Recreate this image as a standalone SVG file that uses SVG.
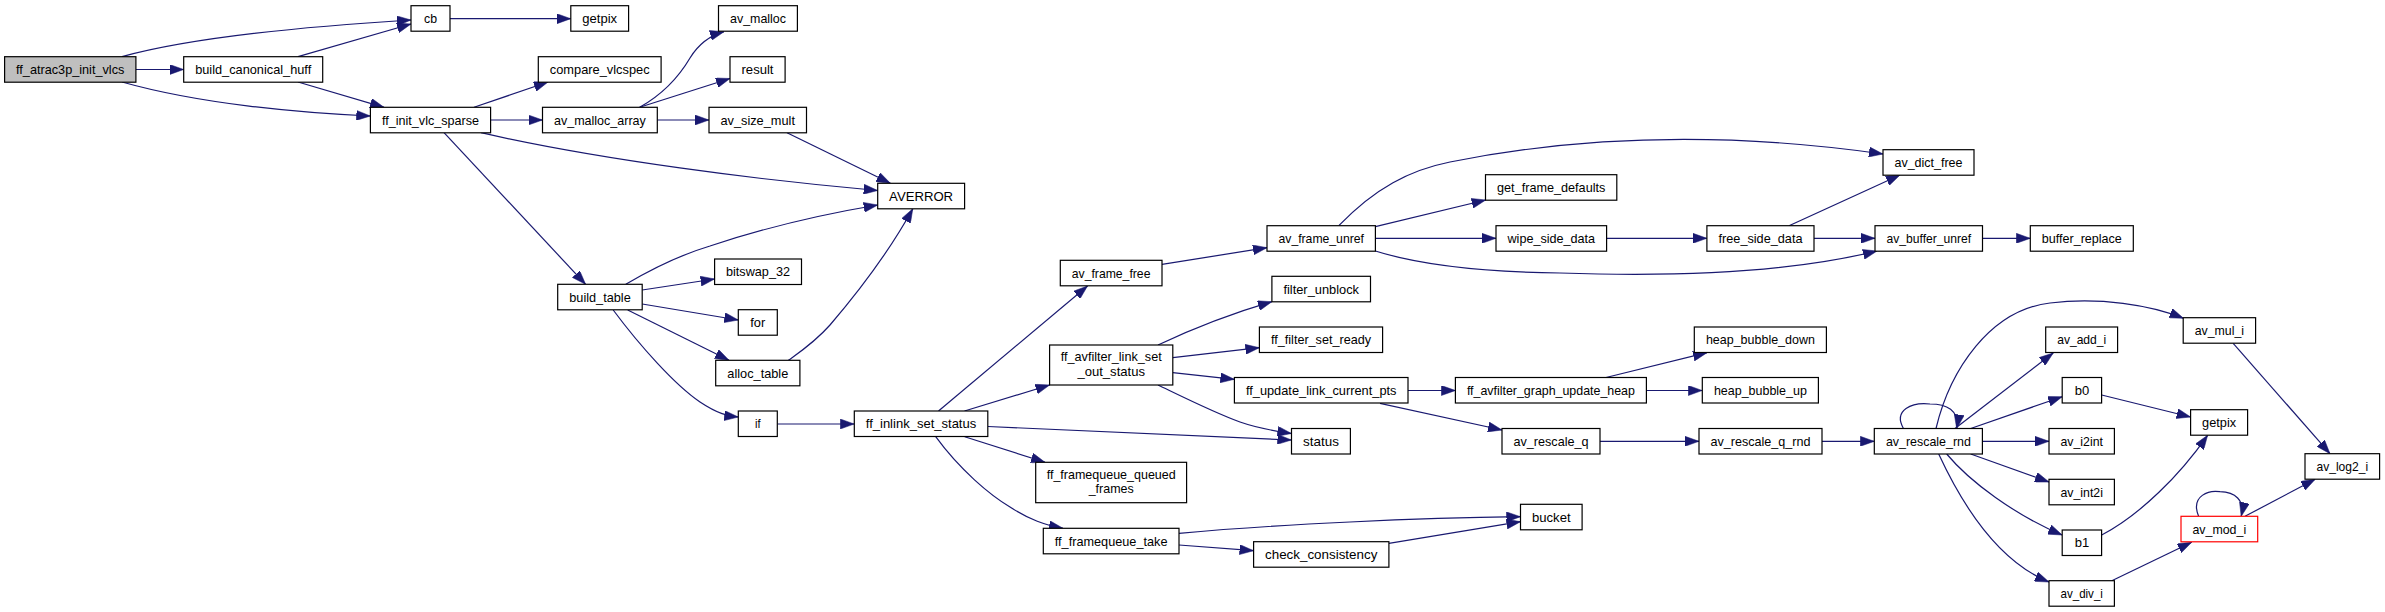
<svg xmlns="http://www.w3.org/2000/svg" width="2385" height="612" viewBox="0 0 2385 612">
<style>
.n{fill:#ffffff;stroke:#000000;stroke-width:1.2}
.r{fill:#bfbfbf;stroke:#000000;stroke-width:1.2}
.red{fill:#ffffff;stroke:#ff0000;stroke-width:1.2}
text{font-family:"Liberation Sans",Arial,sans-serif;font-size:13px;fill:#000000;text-anchor:middle}
.e path{fill:none;stroke:#191970;stroke-width:1.2;marker-end:url(#a)}
</style>
<defs>
<marker id="a" markerUnits="userSpaceOnUse" markerWidth="14" markerHeight="10" viewBox="0 0 14 10" refX="14" refY="5" orient="auto">
<path d="M0,0 L14,5 L0,10 z" fill="#191970" stroke="#191970" stroke-width="0.5"/>
</marker>
</defs>
<rect x="0" y="0" width="2385" height="612" fill="#ffffff"/>
<g id="edges" class="e">
<path d="M122,56.7 C200,35 330,25 411,20"/>
<path d="M136,69.5 L183.7,69.5"/>
<path d="M122,82 C200,104 300,113 370.4,116"/>
<path d="M298,56.7 L411,24"/>
<path d="M298,82 L384,107.3"/>
<path d="M450,18.7 L570.8,18.7"/>
<path d="M474,107.3 L548,82"/>
<path d="M490.6,120 L542.5,120"/>
<path d="M481,132.7 C600,160 760,180 877.7,190.5"/>
<path d="M444,132.7 L585.6,284.3"/>
<path d="M639.7,107.3 C665,93 680,75 690,58 C700,42 712,35 724,31.7"/>
<path d="M639.7,107.3 L730,78.5"/>
<path d="M657.3,120 L709,120"/>
<path d="M787,132.7 L890.4,183.3"/>
<path d="M625.8,284.3 C660,264 690,252 710,246 C770,226 830,213 877.7,205"/>
<path d="M642.2,290 L714.6,279"/>
<path d="M642.2,304 L738.3,320"/>
<path d="M627.7,310 L729,360.3"/>
<path d="M613.2,310 C640,346 675,385 700,402 C718,414 728,416 738.3,417"/>
<path d="M788.4,360.3 C800,352 815,342 830,325 C860,290 890,250 912.8,208.7"/>
<path d="M777.3,424 L854.3,424"/>
<path d="M938.5,411 L1087.5,286"/>
<path d="M964.5,411 L1049.6,385"/>
<path d="M988,426.5 L1291.5,440"/>
<path d="M964.7,436.7 L1045,462.3"/>
<path d="M935.7,436.7 C960,470 990,495 1010,507 C1030,520 1045,525 1063,528.3"/>
<path d="M1162,264.3 L1267,247.7"/>
<path d="M1338.8,225.7 C1375,188 1410,170 1450,162 C1600,132 1750,135 1883,154"/>
<path d="M1375.4,226.7 L1485.7,200"/>
<path d="M1375.4,238.3 L1496,238.3"/>
<path d="M1375.4,251 C1420,265 1480,272 1560,273 C1700,278 1800,270 1877,251"/>
<path d="M1606.6,238.3 L1706.9,238.3"/>
<path d="M1789,225.7 L1900,175"/>
<path d="M1814,238.3 L1875,238.3"/>
<path d="M1982.5,238.3 L2030.3,238.3"/>
<path d="M1158,345 C1190,330 1230,314 1271.9,301.7"/>
<path d="M1172.8,357.7 L1259.4,347.7"/>
<path d="M1172.8,372.7 L1234.4,379.3"/>
<path d="M1158,385 C1185,398 1215,413 1240,422 C1260,429 1275,431 1291.5,433.5"/>
<path d="M1408,390.5 L1455.4,390.5"/>
<path d="M1380,403.3 L1502,430"/>
<path d="M1606,377.5 L1707,352.7"/>
<path d="M1646.4,390.5 L1702.3,390.5"/>
<path d="M1600,441.3 L1699,441.3"/>
<path d="M1822,441.3 L1874.3,441.3"/>
<path d="M1903.4,428.5 C1893,410 1912,402 1930,404 C1946,404 1960,410 1956.7,428.5"/>
<path d="M1936,428.5 C1950,370 1990,310 2050,303 C2100,297 2150,305 2183.5,318.3"/>
<path d="M1955,428.5 L2053.2,353"/>
<path d="M1970.7,428.5 L2062.2,396.7"/>
<path d="M1982.4,441.3 L2049,441.3"/>
<path d="M1970.7,454 L2049,482"/>
<path d="M1946.7,454 C1970,482 2015,515 2062.2,535"/>
<path d="M1938.7,454 C1960,500 1995,560 2049,582"/>
<path d="M2101.7,395 L2190.6,417"/>
<path d="M2101.7,535 C2140,515 2180,475 2207.6,435.3"/>
<path d="M2233.2,343.3 L2330,453.7"/>
<path d="M2111.8,580.7 L2191.7,542.3"/>
<path d="M2198.6,516.3 C2190,495 2210,490 2220,491.7 C2235,492 2245,500 2241.2,516.3"/>
<path d="M2245,516.3 L2315.2,479.3"/>
<path d="M1179,533.3 C1280,524 1420,518 1520.5,516.7"/>
<path d="M1179,545 L1253.6,550.7"/>
<path d="M1388.9,543.3 L1520.5,521.7"/>
</g>
<g id="ff_atrac3p_init_vlcs"><rect class="r" x="4.6" y="56.7" width="131.3" height="25.5"/><text x="70.2" y="74" textLength="108.3" lengthAdjust="spacingAndGlyphs">ff_atrac3p_init_vlcs</text></g>
<g id="build_canonical_huff"><rect class="n" x="183.7" y="56.7" width="139" height="25.5"/><text x="253.2" y="74" textLength="116" lengthAdjust="spacingAndGlyphs">build_canonical_huff</text></g>
<g id="cb"><rect class="n" x="411" y="5.7" width="39" height="25.5"/><text x="430.5" y="23" textLength="13" lengthAdjust="spacingAndGlyphs">cb</text></g>
<g id="ff_init_vlc_sparse"><rect class="n" x="370.4" y="107.3" width="120.2" height="25.5"/><text x="430.5" y="124.6" textLength="97" lengthAdjust="spacingAndGlyphs">ff_init_vlc_sparse</text></g>
<g id="getpix_1"><rect class="n" x="570.8" y="5.7" width="57.8" height="25.5"/><text x="599.7" y="23" textLength="34.8" lengthAdjust="spacingAndGlyphs">getpix</text></g>
<g id="compare_vlcspec"><rect class="n" x="538.3" y="56.7" width="122.8" height="25.5"/><text x="599.7" y="74" textLength="99.8" lengthAdjust="spacingAndGlyphs">compare_vlcspec</text></g>
<g id="av_malloc_array"><rect class="n" x="542.5" y="107.3" width="114.8" height="25.5"/><text x="599.9" y="124.6" textLength="91.8" lengthAdjust="spacingAndGlyphs">av_malloc_array</text></g>
<g id="build_table"><rect class="n" x="557.7" y="284.3" width="84.5" height="25.5"/><text x="600" y="301.6" textLength="61.5" lengthAdjust="spacingAndGlyphs">build_table</text></g>
<g id="av_malloc"><rect class="n" x="718.5" y="5.7" width="78.9" height="25.5"/><text x="758" y="23" textLength="56" lengthAdjust="spacingAndGlyphs">av_malloc</text></g>
<g id="result"><rect class="n" x="730" y="56.7" width="55.1" height="25.5"/><text x="757.5" y="74" textLength="32" lengthAdjust="spacingAndGlyphs">result</text></g>
<g id="av_size_mult"><rect class="n" x="709" y="107.3" width="97.5" height="25.5"/><text x="757.7" y="124.6" textLength="74.5" lengthAdjust="spacingAndGlyphs">av_size_mult</text></g>
<g id="bitswap_32"><rect class="n" x="714.6" y="259" width="86.9" height="25.5"/><text x="758" y="276.3" textLength="64" lengthAdjust="spacingAndGlyphs">bitswap_32</text></g>
<g id="for"><rect class="n" x="738.3" y="309.7" width="39" height="25.5"/><text x="757.8" y="327" textLength="15" lengthAdjust="spacingAndGlyphs">for</text></g>
<g id="alloc_table"><rect class="n" x="715.7" y="360.3" width="84.2" height="25.5"/><text x="757.8" y="377.6" textLength="61" lengthAdjust="spacingAndGlyphs">alloc_table</text></g>
<g id="if"><rect class="n" x="738.3" y="411" width="39" height="25.5"/><text x="757.8" y="428.3" textLength="5.5" lengthAdjust="spacingAndGlyphs">if</text></g>
<g id="AVERROR"><rect class="n" x="877.7" y="183.3" width="86.9" height="25.5"/><text x="921.1" y="200.6" textLength="64" lengthAdjust="spacingAndGlyphs">AVERROR</text></g>
<g id="ff_inlink_set_status"><rect class="n" x="854.3" y="411" width="133.5" height="25.5"/><text x="921" y="428.3" textLength="110.5" lengthAdjust="spacingAndGlyphs">ff_inlink_set_status</text></g>
<g id="av_frame_free"><rect class="n" x="1060.3" y="260.3" width="101.7" height="25.5"/><text x="1111.1" y="277.6" textLength="78.7" lengthAdjust="spacingAndGlyphs">av_frame_free</text></g>
<g id="ff_avfilter_link_set_out_status"><rect class="n" x="1049.6" y="345" width="123.2" height="40"/><text x="1111.2" y="361.2" textLength="101" lengthAdjust="spacingAndGlyphs">ff_avfilter_link_set</text><text x="1111.2" y="376.2" textLength="67.6" lengthAdjust="spacingAndGlyphs">_out_status</text></g>
<g id="ff_framequeue_queued_frames"><rect class="n" x="1035.7" y="462.3" width="150.9" height="40.4"/><text x="1111.2" y="479.4" textLength="129" lengthAdjust="spacingAndGlyphs">ff_framequeue_queued</text><text x="1111.2" y="492.8" textLength="45" lengthAdjust="spacingAndGlyphs">_frames</text></g>
<g id="ff_framequeue_take"><rect class="n" x="1043.3" y="528.3" width="135.7" height="25.5"/><text x="1111.1" y="545.6" textLength="112.7" lengthAdjust="spacingAndGlyphs">ff_framequeue_take</text></g>
<g id="av_frame_unref"><rect class="n" x="1267" y="225.7" width="108.4" height="25.5"/><text x="1321.2" y="243" textLength="85.4" lengthAdjust="spacingAndGlyphs">av_frame_unref</text></g>
<g id="filter_unblock"><rect class="n" x="1271.9" y="276.3" width="98.6" height="25.5"/><text x="1321.2" y="293.6" textLength="75.6" lengthAdjust="spacingAndGlyphs">filter_unblock</text></g>
<g id="ff_filter_set_ready"><rect class="n" x="1259.4" y="327" width="123.2" height="25.5"/><text x="1321" y="344.3" textLength="100" lengthAdjust="spacingAndGlyphs">ff_filter_set_ready</text></g>
<g id="ff_update_link_current_pts"><rect class="n" x="1234.4" y="377.5" width="173.6" height="25.5"/><text x="1321.2" y="394.8" textLength="150.6" lengthAdjust="spacingAndGlyphs">ff_update_link_current_pts</text></g>
<g id="status"><rect class="n" x="1291.5" y="428.5" width="58.9" height="25.5"/><text x="1321" y="445.8" textLength="35.9" lengthAdjust="spacingAndGlyphs">status</text></g>
<g id="check_consistency"><rect class="n" x="1253.6" y="541.7" width="135.3" height="25.5"/><text x="1321.2" y="559" textLength="112.3" lengthAdjust="spacingAndGlyphs">check_consistency</text></g>
<g id="get_frame_defaults"><rect class="n" x="1485.5" y="174.7" width="131.3" height="25.5"/><text x="1551.2" y="192" textLength="108.3" lengthAdjust="spacingAndGlyphs">get_frame_defaults</text></g>
<g id="wipe_side_data"><rect class="n" x="1496" y="225.7" width="110.6" height="25.5"/><text x="1551.3" y="243" textLength="87.6" lengthAdjust="spacingAndGlyphs">wipe_side_data</text></g>
<g id="ff_avfilter_graph_update_heap"><rect class="n" x="1455.4" y="377.5" width="191" height="25.5"/><text x="1550.9" y="394.8" textLength="168" lengthAdjust="spacingAndGlyphs">ff_avfilter_graph_update_heap</text></g>
<g id="av_rescale_q"><rect class="n" x="1502" y="428.5" width="98" height="25.5"/><text x="1551" y="445.8" textLength="75" lengthAdjust="spacingAndGlyphs">av_rescale_q</text></g>
<g id="bucket"><rect class="n" x="1520.5" y="504.3" width="61.6" height="25.5"/><text x="1551.3" y="521.6" textLength="38.6" lengthAdjust="spacingAndGlyphs">bucket</text></g>
<g id="av_dict_free"><rect class="n" x="1883" y="149.7" width="91" height="25.5"/><text x="1928.5" y="167" textLength="68" lengthAdjust="spacingAndGlyphs">av_dict_free</text></g>
<g id="free_side_data"><rect class="n" x="1706.9" y="225.7" width="107.1" height="25.5"/><text x="1760.5" y="243" textLength="84" lengthAdjust="spacingAndGlyphs">free_side_data</text></g>
<g id="av_buffer_unref"><rect class="n" x="1875" y="225.7" width="107.5" height="25.5"/><text x="1928.8" y="243" textLength="84.5" lengthAdjust="spacingAndGlyphs">av_buffer_unref</text></g>
<g id="buffer_replace"><rect class="n" x="2030.3" y="225.7" width="103" height="25.5"/><text x="2081.8" y="243" textLength="80" lengthAdjust="spacingAndGlyphs">buffer_replace</text></g>
<g id="heap_bubble_down"><rect class="n" x="1694.3" y="327" width="132.1" height="25.5"/><text x="1760.4" y="344.3" textLength="109" lengthAdjust="spacingAndGlyphs">heap_bubble_down</text></g>
<g id="heap_bubble_up"><rect class="n" x="1702.3" y="377.5" width="116.1" height="25.5"/><text x="1760.4" y="394.8" textLength="93" lengthAdjust="spacingAndGlyphs">heap_bubble_up</text></g>
<g id="av_rescale_q_rnd"><rect class="n" x="1699" y="428.5" width="123" height="25.5"/><text x="1760.5" y="445.8" textLength="100" lengthAdjust="spacingAndGlyphs">av_rescale_q_rnd</text></g>
<g id="av_rescale_rnd"><rect class="n" x="1874.3" y="428.5" width="108.1" height="25.5"/><text x="1928.4" y="445.8" textLength="85" lengthAdjust="spacingAndGlyphs">av_rescale_rnd</text></g>
<g id="av_mul_i"><rect class="n" x="2183.2" y="317.7" width="72.4" height="25.5"/><text x="2219.4" y="335" textLength="49.4" lengthAdjust="spacingAndGlyphs">av_mul_i</text></g>
<g id="av_add_i"><rect class="n" x="2045.7" y="327" width="71.9" height="25.5"/><text x="2081.7" y="344.3" textLength="49" lengthAdjust="spacingAndGlyphs">av_add_i</text></g>
<g id="b0"><rect class="n" x="2062.2" y="377.5" width="39.4" height="25.5"/><text x="2081.9" y="394.8" textLength="14.5" lengthAdjust="spacingAndGlyphs">b0</text></g>
<g id="getpix_2"><rect class="n" x="2190.6" y="409.7" width="57" height="25.5"/><text x="2219.1" y="427" textLength="34" lengthAdjust="spacingAndGlyphs">getpix</text></g>
<g id="av_i2int"><rect class="n" x="2049" y="428.5" width="65.4" height="25.5"/><text x="2081.7" y="445.8" textLength="42.4" lengthAdjust="spacingAndGlyphs">av_i2int</text></g>
<g id="av_log2_i"><rect class="n" x="2305" y="453.7" width="74.6" height="25.5"/><text x="2342.3" y="471" textLength="51.6" lengthAdjust="spacingAndGlyphs">av_log2_i</text></g>
<g id="av_int2i"><rect class="n" x="2049" y="479.3" width="65.4" height="25.5"/><text x="2081.7" y="496.6" textLength="42.4" lengthAdjust="spacingAndGlyphs">av_int2i</text></g>
<g id="av_mod_i"><rect class="red" x="2181" y="516.3" width="76.7" height="25.5"/><text x="2219.3" y="533.6" textLength="53.7" lengthAdjust="spacingAndGlyphs">av_mod_i</text></g>
<g id="b1"><rect class="n" x="2062.2" y="530" width="39.4" height="25.5"/><text x="2081.9" y="547.3" textLength="14.5" lengthAdjust="spacingAndGlyphs">b1</text></g>
<g id="av_div_i"><rect class="n" x="2049" y="580.7" width="65.4" height="25.5"/><text x="2081.7" y="598" textLength="42.4" lengthAdjust="spacingAndGlyphs">av_div_i</text></g>
</svg>
